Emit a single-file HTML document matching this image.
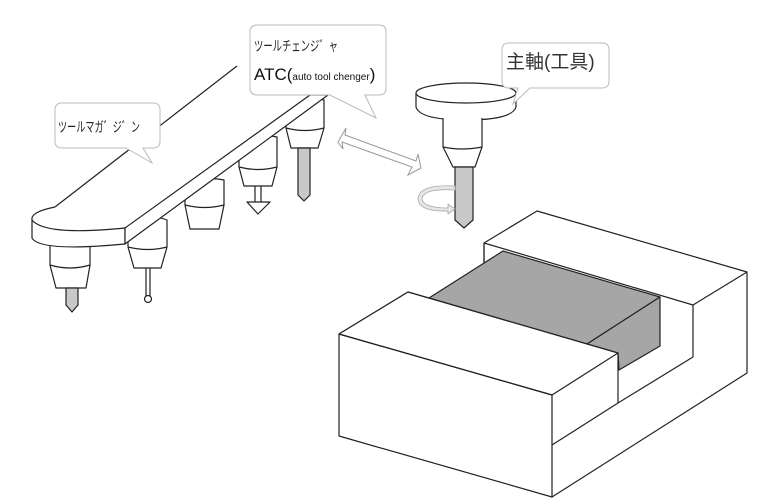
<!DOCTYPE html>
<html><head><meta charset="utf-8"><style>
html,body{margin:0;padding:0;background:#fff;}
svg{display:block;}
text{font-family:"Liberation Sans","Noto Sans CJK JP",sans-serif;}
</style></head><body>
<svg width="768" height="503" viewBox="0 0 768 503" xmlns="http://www.w3.org/2000/svg">
<g fill="none" stroke="#222" stroke-width="1.2" stroke-linejoin="round">
<path d="M50,235 L50,265 L56,288 L86,288 L90,265 L90,235" fill="#fff"/>
<path d="M50,265 Q70,271 90,265"/>
<path d="M66,288 L66,305 L72,312 L78,305 L78,288 Z" fill="#c8c8c8"/>
<path d="M128,225 Q150,213 167,220 L167,247 L161,268 L134,268 L128,247 Z" fill="#fff"/>
<path d="M128,247 Q148,252 167,247"/>
<line x1="146" y1="268" x2="146" y2="296"/><line x1="150" y1="268" x2="150" y2="296"/>
<circle cx="148" cy="299" r="3.5" fill="#fff"/>
<path d="M185,185 Q205,176 224,180 L224,205 L219,229 L190,229 L185,205 Z" fill="#fff"/>
<path d="M185,205 Q205,210 224,205"/>
<path d="M239,142 Q258,133 277,137 L277,167 L272,186 L244,186 L239,167 Z" fill="#fff"/>
<path d="M239,167 Q258,172 277,167"/>
<line x1="255" y1="186" x2="255" y2="202"/><line x1="261" y1="186" x2="261" y2="202"/>
<path d="M247,202 L270,202 L258,214 Z" fill="#fff"/>
<path d="M286,108 L312,97 L324,100 L324,128 L318,148 L291,148 L286,128 Z" fill="#fff"/>
<path d="M286,128 Q305,133 324,128"/>
<path d="M298,148 L298,195 L304,201 L310,195 L310,148 Z" fill="#c8c8c8"/>
<path d="M237,66 L310,95 L125,228 Q45,236 32,220 Q30,212 55,207 Z" fill="#fff" stroke="none"/>
<line x1="237" y1="66" x2="55" y2="207"/>
<path d="M55,207 Q30,212 32,220 L32,238 Q40,252 125,244 L125,228 Q45,236 32,220" fill="#fff"/>
<path d="M125,228 L310,95 L328,95 L125,244 Z" fill="#fff"/>
<path d="M416,93 L416,107 Q420,120 466,120 Q512,120 516,107 L516,93" fill="#fff"/>
<ellipse cx="466" cy="93" rx="50" ry="10" fill="#fff"/>
<path d="M443,118 L443,147 L453,167 L475,167 L482,147 L482,118" fill="#fff"/>
<path d="M443,147 Q462,151 482,147"/>
<path d="M455,167 L455,220 L464,228 L473,220 L473,167 Z" fill="#c8c8c8"/>
<path d="M484,243 L537,211 L747,272 L747,373 L552,497 L339,436 L339,334 L408,292 L484,314 Z" fill="#fff"/>
<path d="M484,243 L693,305 L747,272"/>
<line x1="484" y1="243" x2="484" y2="263"/>
<line x1="693" y1="305" x2="693" y2="357"/>
<line x1="693" y1="357" x2="618" y2="403"/>
<path d="M429,298 L503,251 L660,297 L587,344 Z" fill="#a6a6a6"/>
<path d="M587,344 L660,297 L660,346 L619,370 L618,353 Z" fill="#a6a6a6"/>
<path d="M339,334 L408,292 L618,353 L552,395 Z" fill="#fff"/>
<path d="M339,334 L552,395 L552,497"/>
<line x1="618" y1="353" x2="618" y2="403"/>
<line x1="552" y1="445" x2="618" y2="403"/>
</g>
<path d="M455,190 Q425,188 422,198 Q422,208 448,208 L448,204 L455,209 L448,214 L448,211 Q418,212 418,198 Q420,184 455,186 Z" fill="#e6e6e6" stroke="#aaa" stroke-width="0.8"/>
<path d="M338,142 L346,128 L345,135 L416,161 L418,154 L421,168 L408,175 L412,167 L342,142 L343,149 Z" fill="#fff" stroke="#999" stroke-width="1"/>
<g fill="#fff" stroke="#bbb" stroke-width="1">
<path d="M62,103 L153,103 Q160,103 160,110 L160,141 Q160,148 153,148 L143,148 L152,163 L126,148 L62,148 Q55,148 55,141 L55,110 Q55,103 62,103 Z"/>
<path d="M258,25 L379,25 Q386,25 386,32 L386,88 Q386,95 379,95 L365,95 L376,118 L330,95 L258,95 Q250,95 250,88 L250,32 Q250,25 258,25 Z"/>
<path d="M509,43 L602,43 Q609,43 609,50 L609,81 Q609,88 602,88 L530,88 L513,104 L518,88 L509,88 Q502,88 502,81 L502,50 Q502,43 509,43 Z"/>
</g>
<text x="58" y="132" font-size="14" fill="#222" textLength="82" lengthAdjust="spacingAndGlyphs">ツールマガ゛ジ゛ン</text>
<text x="254" y="51" font-size="14" fill="#222" textLength="84" lengthAdjust="spacingAndGlyphs">ツールチェンジ゛ャ</text>
<text x="254" y="80" font-size="17" fill="#111">ATC(<tspan font-size="10">auto tool chenger</tspan>)</text>
<text x="506" y="68" font-size="19" fill="#333">主軸(工具)</text>
</svg>
</body></html>
